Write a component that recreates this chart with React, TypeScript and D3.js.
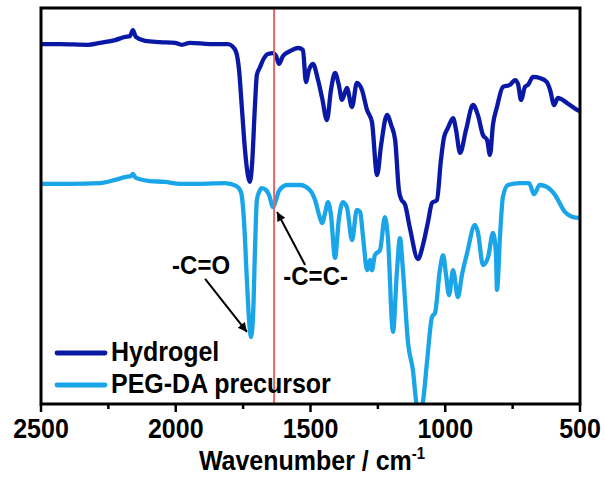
import React, { useEffect, useRef } from 'react';
import * as d3 from 'd3';

// wavenumber (cm-1) and relative transmittance
const hydrogelWn = [2500, 2430, 2326, 2281, 2225, 2188, 2170, 2159, 2148, 2114, 2058, 2003, 1977, 1947, 1873, 1806, 1791, 1776, 1765, 1754, 1743, 1732, 1725, 1717, 1706, 1699, 1687, 1676, 1658, 1639, 1628, 1617, 1602, 1576, 1546, 1528, 1517, 1506, 1491, 1472, 1457, 1439, 1424, 1409, 1395, 1383, 1365, 1346, 1328, 1309, 1290, 1272, 1253, 1238, 1216, 1201, 1186, 1172, 1164, 1149, 1131, 1101, 1083, 1064, 1049, 1031, 1016, 1005, 990, 971, 960, 945, 923, 897, 879, 860, 845, 834, 823, 808, 786, 760, 741, 730, 719, 704, 693, 674, 649, 623, 611, 596, 582, 548, 508, 500];
const hydrogelT = [90.9, 90.9, 90.7, 91.2, 91.9, 92.7, 92.9, 94.4, 92.7, 91.7, 91.4, 91.2, 90.7, 91.2, 90.9, 90.9, 90.4, 88.9, 84.3, 74.2, 64.1, 57.6, 56.1, 60.4, 75.5, 83.1, 85.1, 86.9, 88.4, 88.6, 87.9, 85.9, 87.9, 89.1, 89.9, 89.4, 81.3, 84.3, 85.9, 81.8, 77.3, 71.7, 79.3, 83.6, 80.6, 76.8, 79.8, 75.0, 81.1, 79.3, 74.2, 71.2, 57.8, 65.4, 73.0, 70.5, 66.7, 54.0, 51.8, 50.3, 44.4, 36.6, 40.1, 46.0, 50.8, 51.5, 61.6, 67.2, 69.7, 72.2, 69.2, 63.4, 69.2, 75.5, 73.0, 67.9, 66.7, 62.9, 70.5, 75.0, 80.1, 80.6, 81.8, 80.8, 76.8, 80.1, 80.6, 82.6, 82.3, 81.3, 79.3, 75.5, 77.3, 76.0, 74.2, 74.0];

const pegWn = [2500, 2392, 2281, 2225, 2188, 2166, 2159, 2148, 2096, 2040, 1984, 1910, 1817, 1776, 1758, 1747, 1736, 1728, 1721, 1713, 1706, 1699, 1691, 1680, 1665, 1654, 1639, 1628, 1617, 1587, 1539, 1502, 1483, 1468, 1457, 1446, 1435, 1424, 1409, 1395, 1380, 1365, 1346, 1328, 1316, 1305, 1290, 1279, 1272, 1261, 1242, 1224, 1213, 1194, 1179, 1168, 1157, 1138, 1120, 1105, 1094, 1083, 1068, 1049, 1038, 1020, 1008, 997, 986, 971, 953, 938, 919, 890, 879, 860, 841, 823, 812, 808, 797, 786, 767, 723, 689, 671, 649, 623, 593, 556, 526, 500];
const pegT = [55.6, 55.6, 55.8, 56.6, 57.3, 57.6, 58.1, 57.1, 56.3, 56.1, 55.6, 55.6, 55.8, 55.1, 53.5, 46.5, 31.3, 21.2, 16.9, 22.5, 38.9, 51.5, 53.5, 54.5, 54.0, 52.8, 49.7, 51.5, 53.8, 55.3, 55.3, 54.0, 51.5, 47.7, 45.7, 48.2, 51.0, 47.7, 36.9, 46.5, 51.0, 49.7, 41.4, 49.0, 48.5, 42.2, 33.8, 36.4, 33.8, 37.6, 38.9, 47.2, 42.2, 18.2, 33.8, 41.9, 33.8, 15.4, 8.6, -0.5, -1.5, 0.5, 10.4, 22.0, 23.0, 33.8, 37.6, 32.6, 27.5, 33.8, 27.0, 32.6, 38.1, 45.2, 43.4, 35.1, 37.1, 43.2, 38.1, 28.8, 42.2, 52.3, 55.3, 55.8, 55.8, 53.0, 55.3, 54.8, 52.8, 48.5, 47.2, 47.0];

const seriesNames = ['Hydrogel', 'PEG-DA precursor'];
const seriesColors = ['#0a18a6', '#1aa5e8'];
const majorTicks = [2500, 2000, 1500, 1000, 500];
const minorTicks = [2250, 1750, 1250, 750];
const markerWn = 1635;

export default function App() {
  const ref = useRef<SVGSVGElement>(null);

  useEffect(() => {
    const svg = d3.select(ref.current);
    svg.selectAll('*').remove();

    const left = 41, right = 580, top = 8, bottom = 404;
    const x = d3.scaleLinear().domain([2500, 500]).range([left, right]);
    const y = d3.scaleLinear().domain([0, 100]).range([bottom, top]);
    const font = '"Liberation Sans", Arial, sans-serif';
    const stretch = 1.1; // the original's lettering is a little taller than wide

    // bold text placed at (px, py), stretched vertically
    const label = (g: any, px: number, py: number, size: number, anchor: string) =>
      g.append('text').attr('transform', `translate(${px},${py}) scale(1,${stretch})`)
        .attr('text-anchor', anchor)
        .style('font-family', font).style('font-weight', 'bold').style('font-size', `${size}px`);

    const defs = svg.append('defs');
    defs.append('clipPath').attr('id', 'plot-clip')
      .append('rect').attr('x', left).attr('y', top).attr('width', right - left).attr('height', bottom - top);
    defs.append('marker').attr('id', 'arrow').attr('viewBox', '0 0 10 10')
      .attr('refX', 10).attr('refY', 5).attr('markerWidth', 12).attr('markerHeight', 9)
      .attr('markerUnits', 'userSpaceOnUse').attr('orient', 'auto')
      .append('path').attr('d', 'M0,0 L10,5 L0,10 z').attr('fill', '#000');

    const plot = svg.append('g').attr('clip-path', 'url(#plot-clip)');
    const line = d3.line<[number, number]>().x(d => x(d[0])).y(d => y(d[1])).curve(d3.curveMonotoneX);

    const series = [d3.zip(hydrogelWn, hydrogelT), d3.zip(pegWn, pegT)] as [number, number][][];
    // precursor first so the hydrogel trace sits on top
    [1, 0].forEach(i => {
      plot.append('path').datum(series[i]).attr('d', line)
        .attr('fill', 'none').attr('stroke', seriesColors[i]).attr('stroke-width', 4.3)
        .attr('stroke-linejoin', 'round').attr('stroke-linecap', 'round');
    });

    plot.append('line').attr('x1', x(markerWn)).attr('x2', x(markerWn)).attr('y1', top).attr('y2', bottom)
      .attr('stroke', '#e36565').attr('stroke-width', 2);

    svg.append('rect').attr('x', left).attr('y', top).attr('width', right - left).attr('height', bottom - top)
      .attr('fill', 'none').attr('stroke', '#000').attr('stroke-width', 3);

    const axis = svg.append('g');
    axis.selectAll('.major').data(majorTicks).enter().append('line')
      .attr('x1', d => x(d)).attr('x2', d => x(d)).attr('y1', bottom).attr('y2', bottom + 8)
      .attr('stroke', '#000').attr('stroke-width', 2.5);
    axis.selectAll('.minor').data(minorTicks).enter().append('line')
      .attr('x1', d => x(d)).attr('x2', d => x(d)).attr('y1', bottom).attr('y2', bottom + 5)
      .attr('stroke', '#000').attr('stroke-width', 2.5);
    majorTicks.forEach(t => label(axis, x(t), 438, 25, 'middle').text(t));

    const title = label(svg, 312, 470, 25, 'middle');
    title.append('tspan').text('Wavenumber / cm');
    title.append('tspan').attr('dy', -10).style('font-size', '15px').text('-1');

    // annotations
    const ann = svg.append('g');
    label(ann, x(1906), y(32.8), 24, 'middle').text('-C=O');
    ann.append('line').attr('x1', x(1891)).attr('y1', y(31.6)).attr('x2', x(1736)).attr('y2', y(18.2))
      .attr('stroke', '#000').attr('stroke-width', 2).attr('marker-end', 'url(#arrow)');
    label(ann, x(1481), y(30), 24, 'middle').text('-C=C-');
    ann.append('line').attr('x1', x(1520)).attr('y1', y(35.1)).attr('x2', x(1624)).attr('y2', y(48.5))
      .attr('stroke', '#000').attr('stroke-width', 2).attr('marker-end', 'url(#arrow)');

    const legend = svg.append('g');
    seriesNames.forEach((name, i) => {
      const ly = 353 + i * 32;
      legend.append('line').attr('x1', 57).attr('x2', 105).attr('y1', ly).attr('y2', ly)
        .attr('stroke', seriesColors[i]).attr('stroke-width', 4.8).attr('stroke-linecap', 'round');
      label(legend, 111, ly + 8, 25, 'start').text(name);
    });
  }, []);

  return (
    <svg ref={ref} width={605} height={479}
      style={{ position: 'absolute', left: 0, top: 0, background: '#fff' }} />
  );
}
